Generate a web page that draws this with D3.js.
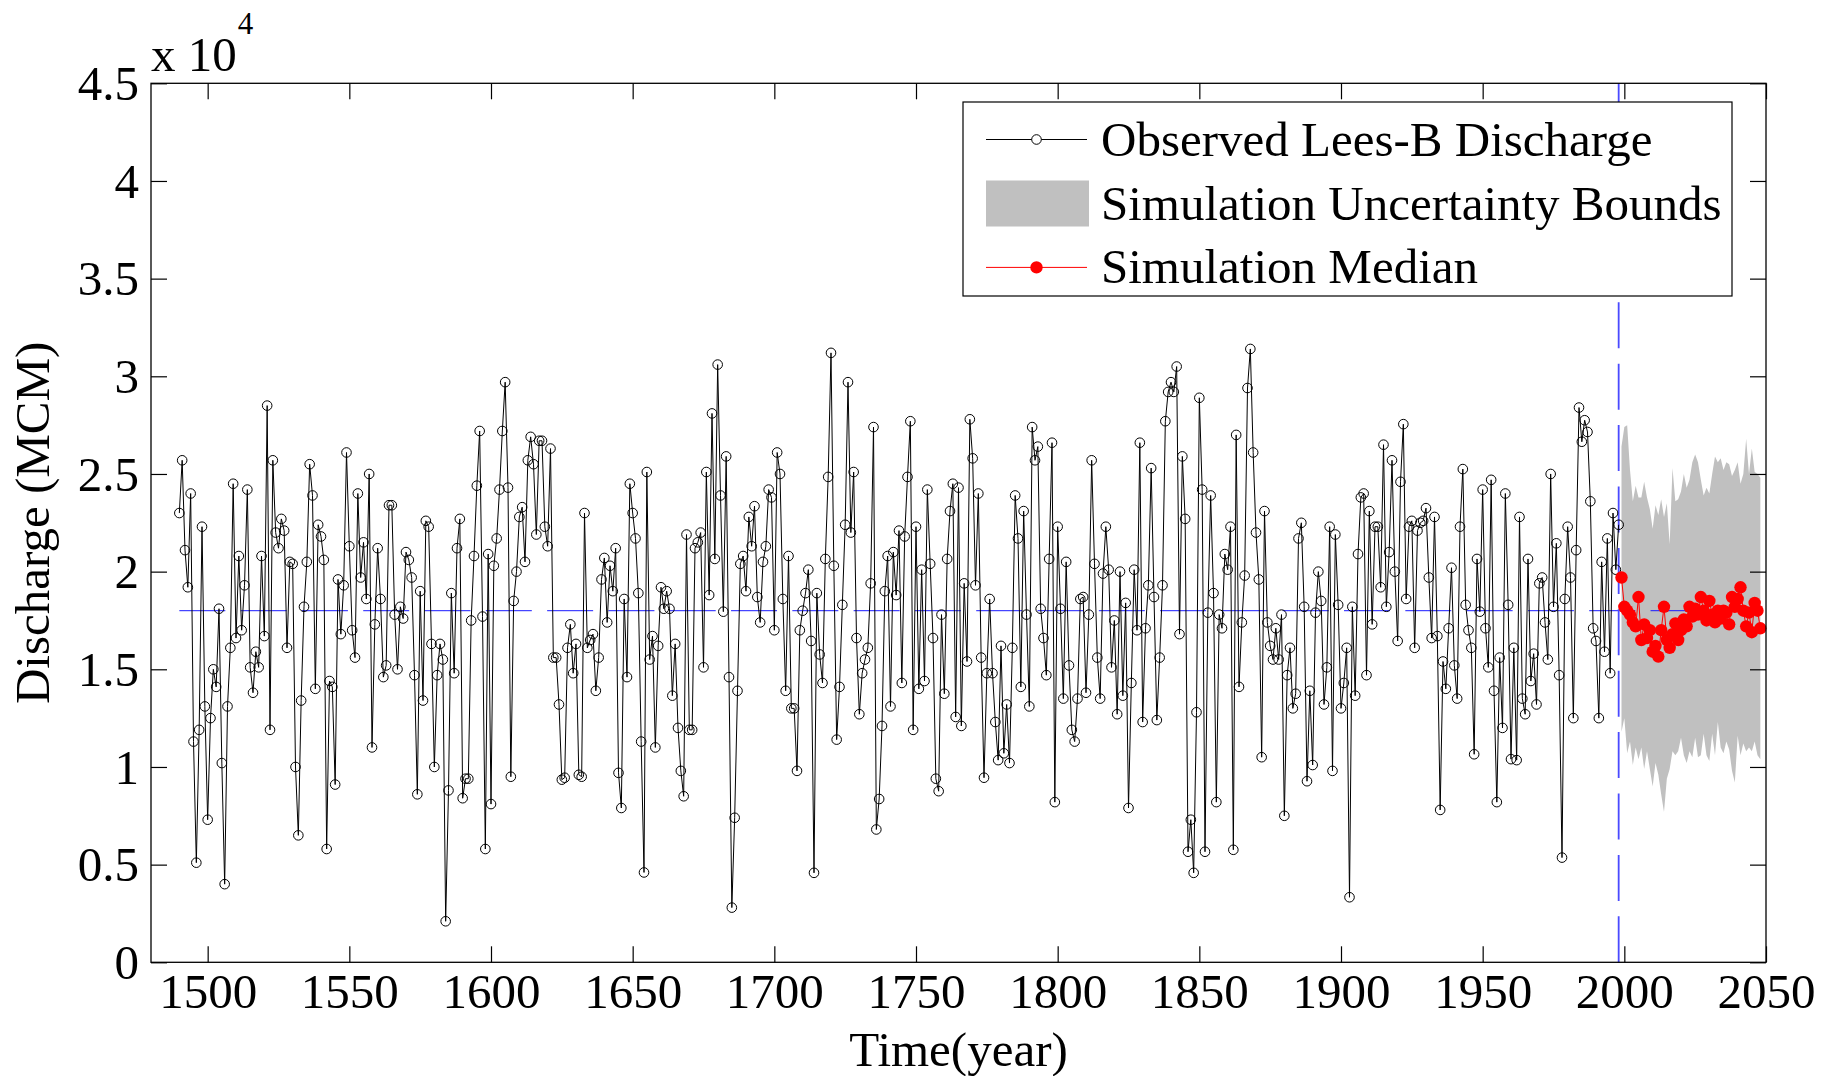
<!DOCTYPE html>
<html>
<head>
<meta charset="utf-8">
<script src="https://cdn.jsdelivr.net/npm/d3@7"></script>
<style>
  body { margin: 0; background: #fff; }
  svg { display: block; }
  text { font-family: "Liberation Serif", "Times New Roman", serif; fill: #000; }
</style>
</head>
<body>
<svg id="chart" width="1823" height="1076"></svg>
<script>
// Annual discharge, in units of 10^4 MCM.
const obsStartYear = 1490;
const observed = [
  2.30, 2.57, 2.11, 1.92, 2.40, 1.13, 0.51, 1.19, 2.23, 1.31,   // 1490
  0.73, 1.25, 1.50, 1.41, 1.81, 1.02, 0.40, 1.31, 1.61, 2.45,   // 1500
  1.66, 2.08, 1.70, 1.93, 2.42, 1.51, 1.38, 1.59, 1.51, 2.08,   // 1510
  1.67, 2.85, 1.19, 2.57, 2.20, 2.12, 2.27, 2.21, 1.61, 2.05,   // 1520
  2.04, 1.00, 0.65, 1.34, 1.82, 2.05, 2.55, 2.39, 1.40, 2.24,   // 1530
  2.18, 2.06, 0.58, 1.44, 1.41, 0.91, 1.96, 1.68, 1.93, 2.61,   // 1540
  2.13, 1.70, 1.56, 2.40, 1.97, 2.15, 1.86, 2.50, 1.10, 1.73,   // 1550
  2.12, 1.86, 1.46, 1.52, 2.34, 2.34, 1.78, 1.50, 1.82, 1.76,   // 1560
  2.10, 2.06, 1.97, 1.47, 0.86, 1.90, 1.34, 2.26, 2.23, 1.63,   // 1570
  1.00, 1.47, 1.63, 1.55, 0.21, 0.88, 1.89, 1.48, 2.12, 2.27,   // 1580
  0.84, 0.94, 0.94, 1.75, 2.08, 2.44, 2.72, 1.77, 0.58, 2.09,   // 1590
  0.81, 2.03, 2.17, 2.42, 2.72, 2.97, 2.43, 0.95, 1.85, 2.00,   // 1600
  2.28, 2.33, 2.05, 2.57, 2.69, 2.55, 2.19, 2.67, 2.67, 2.23,   // 1610
  2.13, 2.63, 1.56, 1.56, 1.32, 0.935, 0.945, 1.61, 1.73, 1.48, // 1620
  1.63, 0.96, 0.95, 2.30, 1.61, 1.65, 1.68, 1.39, 1.56, 1.96,   // 1630
  2.07, 1.74, 2.03, 1.90, 2.12, 0.97, 0.79, 1.86, 1.46, 2.45,   // 1640
  2.30, 2.17, 1.89, 1.13, 0.46, 2.51, 1.55, 1.67, 1.10, 1.62,   // 1650
  1.92, 1.81, 1.90, 1.81, 1.365, 1.63, 1.20, 0.98, 0.85, 2.19,  // 1660
  1.19, 1.19, 2.12, 2.15, 2.20, 1.51, 2.51, 1.88, 2.81, 2.065,  // 1670
  3.06, 2.39, 1.795, 2.59, 1.46, 0.28, 0.74, 1.39, 2.04, 2.08,  // 1680
  1.90, 2.28, 2.13, 2.335, 1.87, 1.74, 2.05, 2.13, 2.42, 2.38,  // 1690
  1.70, 2.61, 2.50, 1.86, 1.39, 2.08, 1.30, 1.30, 0.98, 1.70,   // 1700
  1.80, 1.89, 2.01, 1.645, 0.458, 1.89, 1.576, 1.43, 2.065, 2.485, // 1710
  3.12, 2.03, 1.14, 1.41, 1.83, 2.24, 2.97, 2.20, 2.51, 1.66,   // 1720
  1.27, 1.48, 1.55, 1.61, 1.94, 2.74, 0.68, 0.836, 1.21, 1.90,  // 1730
  2.08, 1.31, 2.10, 1.88, 2.21, 1.43, 2.18, 2.485, 2.77, 1.19,  // 1740
  2.23, 1.40, 2.01, 1.44, 2.42, 2.04, 1.66, 0.94, 0.876, 1.78,  // 1750
  1.375, 2.065, 2.31, 2.45, 1.256, 2.43, 1.21, 1.94, 1.54, 2.78, // 1760
  2.58, 1.93, 2.40, 1.56, 0.945, 1.48, 1.86, 1.48, 1.23, 1.035, // 1770
  1.62, 1.07, 1.32, 1.02, 1.61, 2.39, 2.17, 1.41, 2.31, 1.78,   // 1780
  1.31, 2.74, 2.57, 2.64, 1.81, 1.66, 1.47, 2.065, 2.66, 0.82,  // 1790
  2.23, 1.81, 1.35, 2.05, 1.52, 1.19, 1.13, 1.35, 1.86, 1.87,   // 1800
  1.38, 1.78, 2.57, 2.04, 1.56, 1.35, 1.99, 2.23, 2.01, 1.51,   // 1810
  1.75, 1.27, 2.00, 1.365, 1.84, 0.79, 1.43, 2.01, 1.70, 2.66,  // 1820
  1.23, 1.71, 1.93, 2.53, 1.87, 1.24, 1.56, 1.93, 2.77, 2.92,   // 1830
  2.97, 2.92, 3.05, 1.68, 2.59, 2.27, 0.566, 0.73, 0.458, 1.28, // 1840
  2.89, 2.42, 0.566, 1.79, 2.39, 1.89, 0.82, 1.78, 1.71, 2.09,  // 1850
  2.01, 2.23, 0.576, 2.70, 1.41, 1.74, 1.98, 2.94, 3.14, 2.61,  // 1860
  2.20, 1.96, 1.05, 2.31, 1.74, 1.62, 1.55, 1.71, 1.55, 1.78,   // 1870
  0.75, 1.47, 1.61, 1.30, 1.375, 2.17, 2.25, 1.82, 0.927, 1.39, // 1880
  1.01, 1.79, 2.00, 1.85, 1.32, 1.51, 2.23, 0.98, 2.19, 1.83,   // 1890
  1.30, 1.43, 1.61, 0.333, 1.82, 1.365, 2.09, 2.38, 2.40, 1.47, // 1900
  2.31, 1.73, 2.23, 2.23, 1.92, 2.65, 1.82, 2.10, 2.57, 2.00,   // 1910
  1.645, 2.46, 2.755, 1.86, 2.23, 2.26, 1.61, 2.21, 2.25, 2.26, // 1920
  2.325, 1.97, 1.66, 2.28, 1.67, 0.78, 1.54, 1.40, 1.71, 2.02,  // 1930
  1.52, 1.35, 2.23, 2.525, 1.83, 1.70, 1.61, 1.065, 2.065, 1.795, // 1940
  2.42, 1.71, 1.51, 2.47, 1.39, 0.82, 1.56, 1.20, 2.40, 1.83,   // 1950
  1.04, 1.61, 1.035, 2.28, 1.35, 1.27, 2.065, 1.44, 1.58, 1.32, // 1960
  1.94, 1.97, 1.74, 1.55, 2.50, 1.82, 2.145, 1.47, 0.536, 1.86, // 1970
  2.23, 1.97, 1.25, 2.11, 2.84, 2.665, 2.775, 2.715, 2.36, 1.71, // 1980
  1.645, 1.25, 2.05, 1.59, 2.17, 1.48, 2.30, 2.01, 2.24         // 1990
];

// Simulated period (10^4 MCM).
const simStartYear = 1999;
const simMedian = [
  1.97, 1.82, 1.80, 1.78, 1.74, 1.72, 1.87, 1.65, 1.73, 1.66,
  1.70, 1.59, 1.62, 1.565, 1.70, 1.82, 1.65, 1.61, 1.68, 1.735,
  1.65, 1.70, 1.755, 1.72, 1.82, 1.77, 1.81, 1.78, 1.87, 1.80,
  1.75, 1.85, 1.78, 1.74, 1.80, 1.76, 1.80, 1.79, 1.73, 1.87,
  1.82, 1.86, 1.92, 1.80, 1.72, 1.79, 1.69, 1.84, 1.80, 1.71
];
const simUpper = [
  2.64, 2.74, 2.75, 2.52, 2.36, 2.44, 2.38, 2.38, 2.46, 2.38,
  2.32, 2.22, 2.34, 2.29, 2.37, 2.28, 2.35, 2.14, 2.53, 2.36,
  2.37, 2.41, 2.50, 2.43, 2.47, 2.56, 2.60, 2.56, 2.47, 2.39,
  2.43, 2.40, 2.50, 2.59, 2.56, 2.58, 2.52, 2.56, 2.55, 2.49,
  2.52, 2.56, 2.45, 2.50, 2.68, 2.50, 2.63, 2.51, 2.50, 2.48
];
const simLower = [
  1.18, 1.25, 1.07, 1.13, 1.01, 1.10, 1.04, 1.10, 0.99, 1.08,
  0.99, 0.90, 1.02, 0.96, 0.86, 0.77, 0.94, 0.99, 1.08, 1.06,
  1.08, 1.15, 1.06, 1.02, 1.08, 1.05, 1.15, 1.05, 1.06, 1.17,
  1.06, 1.03, 1.17, 1.06, 1.23, 1.10, 1.07, 1.13, 1.09, 0.98,
  0.92, 1.16, 1.06, 1.12, 1.08, 1.10, 1.08, 1.13, 1.06, 1.04
];

const meanLevel = 1.80;       // long-term mean of the observed record
const meanStart = 1490, meanEnd = 2048;
const splitYear = 1998;       // end of the observed record

const xTicks = [1500, 1550, 1600, 1650, 1700, 1750, 1800, 1850, 1900, 1950, 2000, 2050];
const yTicks = [0, 0.5, 1, 1.5, 2, 2.5, 3, 3.5, 4, 4.5];
const yTickLabels = ["0", "0.5", "1", "1.5", "2", "2.5", "3", "3.5", "4", "4.5"];
const legendLabels = ["Observed Lees-B Discharge", "Simulation Uncertainty Bounds", "Simulation Median"];

const obsRows = observed.map((v, i) => ({ year: obsStartYear + i, v }));
const simRows = simMedian.map((v, i) => ({ year: simStartYear + i, v, lo: simLower[i], hi: simUpper[i] }));

const svg = d3.select("#chart");
const plot = { left: 151, right: 1766, top: 83.3, bottom: 962.3 };

const x = d3.scaleLinear().domain([1480, 2050]).range([plot.left, plot.right]);
const y = d3.scaleLinear().domain([0, 4.5]).range([plot.bottom, plot.top]);

const FONT = 49;
const OBS_R = 4.8, SIM_R = 6.2;

// uncertainty band
svg.append("path")
  .datum(simRows)
  .attr("fill", "#c0c0c0")
  .attr("d", d3.area().x(d => x(d.year)).y0(d => y(d.lo)).y1(d => y(d.hi)));

// mean level
svg.append("line")
  .attr("x1", x(meanStart)).attr("x2", x(meanEnd))
  .attr("y1", y(meanLevel)).attr("y2", y(meanLevel))
  .attr("stroke", "#1a1aff").attr("stroke-width", 1)
  .attr("stroke-dasharray", "46,15.3");

// observed / simulated split
svg.append("line")
  .attr("x1", x(splitYear)).attr("x2", x(splitYear))
  .attr("y1", plot.bottom).attr("y2", plot.top)
  .attr("stroke", "#4a4aff").attr("stroke-width", 1.8)
  .attr("stroke-dasharray", "46,15.4");

// observed series
svg.append("path")
  .datum(obsRows)
  .attr("fill", "none").attr("stroke", "#000").attr("stroke-width", 1)
  .attr("d", d3.line().x(d => x(d.year)).y(d => y(d.v)));

svg.append("g").selectAll("circle")
  .data(obsRows).join("circle")
  .attr("cx", d => x(d.year)).attr("cy", d => y(d.v)).attr("r", OBS_R)
  .attr("fill", "none").attr("stroke", "#000").attr("stroke-width", 1);

// simulated median
svg.append("path")
  .datum(simRows)
  .attr("fill", "none").attr("stroke", "#ff0000").attr("stroke-width", 1)
  .attr("d", d3.line().x(d => x(d.year)).y(d => y(d.v)));

svg.append("g").selectAll("circle")
  .data(simRows).join("circle")
  .attr("cx", d => x(d.year)).attr("cy", d => y(d.v)).attr("r", SIM_R)
  .attr("fill", "#ff0000");

// axes box with inward ticks on all four sides
const axisG = svg.append("g");
axisG.append("rect")
  .attr("x", plot.left).attr("y", plot.top)
  .attr("width", plot.right - plot.left).attr("height", plot.bottom - plot.top)
  .attr("fill", "none").attr("stroke", "#000").attr("stroke-width", 1.3);

const TL = 16;
const bottomAxis = d3.axisBottom(x).tickValues(xTicks).tickSize(-TL).tickFormat(d3.format("d")).tickPadding(10);
const topAxis = d3.axisTop(x).tickValues(xTicks).tickSize(-TL).tickFormat("");
const leftAxis = d3.axisLeft(y).tickValues(yTicks).tickSize(-TL).tickFormat((d, i) => yTickLabels[i]).tickPadding(12);
const rightAxis = d3.axisRight(y).tickValues(yTicks).tickSize(-TL).tickFormat("");

function styleAxis(g) {
  g.select(".domain").remove();
  g.selectAll(".tick line").attr("stroke", "#000").attr("stroke-width", 1.2);
  g.selectAll(".tick text").attr("font-size", FONT).attr("font-family", "Liberation Serif, Times New Roman, serif").attr("fill", "#000");
}
axisG.append("g").attr("transform", `translate(0,${plot.bottom})`).call(bottomAxis).call(styleAxis)
  .selectAll(".tick text").attr("dy", "0.72em");
axisG.append("g").attr("transform", `translate(0,${plot.top})`).call(topAxis).call(styleAxis);
axisG.append("g").attr("transform", `translate(${plot.left},0)`).call(leftAxis).call(styleAxis)
  .selectAll(".tick text").attr("dy", "0.33em");
axisG.append("g").attr("transform", `translate(${plot.right},0)`).call(rightAxis).call(styleAxis);

// exponent marker
const expo = svg.append("text").attr("x", 151).attr("y", 71).attr("font-size", FONT);
expo.append("tspan").text("x 10");
expo.append("tspan").attr("font-size", 31).attr("dy", -37).attr("dx", 1).text("4");

// axis titles
svg.append("text")
  .attr("x", (plot.left + plot.right) / 2).attr("y", 1066)
  .attr("text-anchor", "middle").attr("font-size", FONT)
  .text("Time(year)");
svg.append("text")
  .attr("transform", `translate(49,${(plot.top + plot.bottom) / 2}) rotate(-90)`)
  .attr("text-anchor", "middle").attr("font-size", FONT)
  .text("Discharge (MCM)");

// legend
const lg = svg.append("g");
lg.append("rect").attr("x", 963).attr("y", 102).attr("width", 769).attr("height", 194)
  .attr("fill", "#fff").attr("stroke", "#000").attr("stroke-width", 1.2);
const rowY = [139.5, 203.5, 267.4];
const sx1 = 986, sx2 = 1087, sxm = (sx1 + sx2) / 2, tx = 1101;

lg.append("line").attr("x1", sx1).attr("x2", sx2).attr("y1", rowY[0]).attr("y2", rowY[0])
  .attr("stroke", "#000").attr("stroke-width", 1);
lg.append("circle").attr("cx", sxm).attr("cy", rowY[0]).attr("r", OBS_R)
  .attr("fill", "#fff").attr("stroke", "#000");

lg.append("rect").attr("x", sx1).attr("y", rowY[1] - 23).attr("width", sx2 - sx1 + 2).attr("height", 46)
  .attr("fill", "#c0c0c0");

lg.append("line").attr("x1", sx1).attr("x2", sx2).attr("y1", rowY[2]).attr("y2", rowY[2])
  .attr("stroke", "#ff0000").attr("stroke-width", 1);
lg.append("circle").attr("cx", sxm).attr("cy", rowY[2]).attr("r", SIM_R).attr("fill", "#ff0000");

lg.selectAll("text.lab").data(legendLabels).join("text")
  .attr("class", "lab")
  .attr("x", tx).attr("y", (d, i) => rowY[i] + 16)
  .attr("font-size", FONT)
  .text(d => d);
</script>
</body>
</html>
